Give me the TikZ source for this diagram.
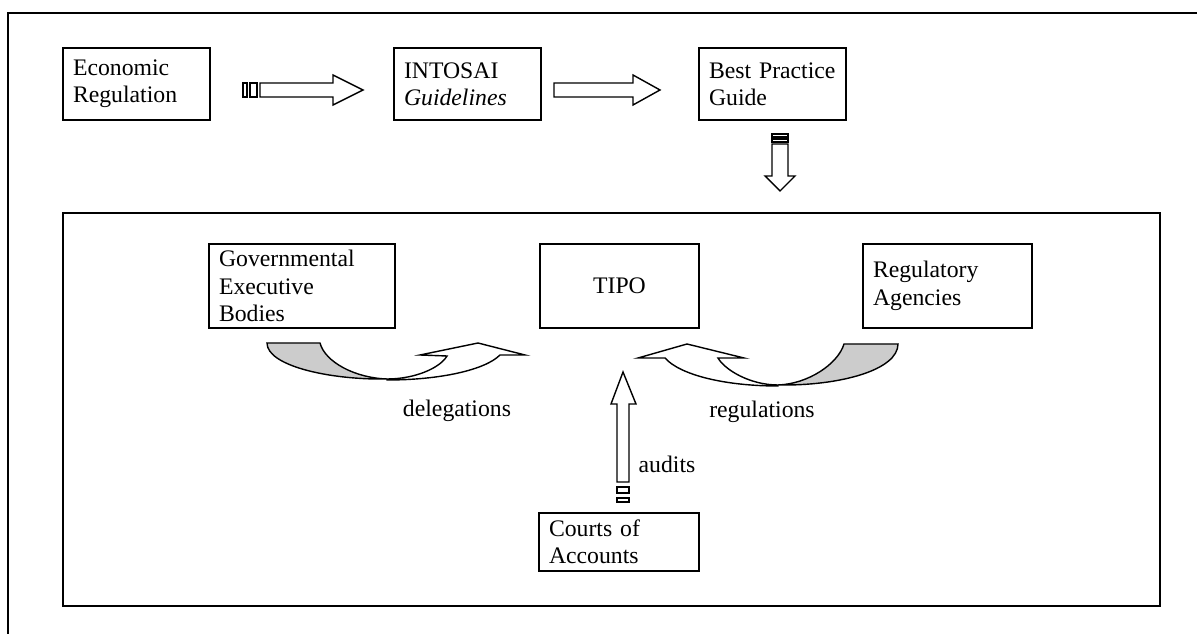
\documentclass[tikz,border=0pt]{standalone}
\usepackage{fontspec}
\setmainfont{Liberation Serif}
\usepackage{tikz}
\usetikzlibrary{positioning}
\definecolor{bandgray}{RGB}{204,204,204}

\begin{document}
\begin{tikzpicture}[
    x=0.02cm, y=-0.02cm,
    box/.style={draw, line width=1pt, inner xsep=0.2cm, inner ysep=0pt, align=left,
        minimum height=1.44cm, font=\fontsize{13.5}{15.6}\selectfont},
    frame/.style={line width=1.1pt},
    blockarrow/.style={draw, line width=0.8pt, fill=white, line join=miter},
    band/.style={draw, line width=0.8pt, fill=bandgray},
    lbl/.style={anchor=base, inner sep=0pt, font=\fontsize{13.5}{15.6}\selectfont},
]
    \useasboundingbox (0,0) rectangle (1197,634);

    % Frames
    \draw[frame] (8,634) -- (8,13) -- (1197,13);
    \draw[frame] (63,213) rectangle (1160,606);

    % Top row
    \node[box, text width=2.54cm] (econ) at (136.5,84) {Economic\\Regulation};
    \node[box, text width=2.54cm] (intosai) at (467.5,84) {INTOSAI\\\textit{Guidelines}};
    \node[box, text width=2.54cm] (guide) at (772.5,84) {Best Practice\\Guide};

    % Striped arrow econ -> intosai
    \draw[blockarrow] (243,83) rectangle (247,97);
    \draw[blockarrow] (250,83) rectangle (257,97);
    \draw[blockarrow] (260,83) -- (333,83) -- (333,75) -- (363,90) -- (333,105) -- (333,97) -- (260,97) -- cycle;

    % Arrow intosai -> guide
    \draw[blockarrow] (554,83) -- (633,83) -- (633,75) -- (660,90) -- (633,105) -- (633,97) -- (554,97) -- cycle;

    % Striped arrow down into the lower frame
    \draw[blockarrow] (772,134) rectangle (788,137);
    \draw[blockarrow] (772,139) rectangle (788,142);
    \draw[blockarrow] (772,144) -- (772,176) -- (765,176) -- (780,191) -- (795,176) -- (788,176) -- (788,144) -- cycle;

    % Actors
    \node[box, text width=3.32cm, minimum height=1.68cm] (gov) at (302,286) {Governmental\\Executive\\Bodies};
    \node[box, text width=2.78cm, minimum height=1.68cm, align=center] (tipo) at (619.5,286) {TIPO};
    \node[box, text width=2.98cm, minimum height=1.68cm] (reg) at (947.5,286) {Regulatory\\Agencies};
    \node[box, text width=2.8cm, minimum height=1.16cm] (courts) at (619,542) {Courts of\\Accounts};

    % Curved arrow: delegations
    \draw[band] (267,343) -- (320,343) .. controls (325,362) and (355,378) .. (387,379)
        .. controls (330,380) and (267,366) .. (267,343) -- cycle;
    \draw[blockarrow] (387,380) .. controls (440,380) and (485,370) .. (500,355)
        -- (525,355) -- (478,343) -- (420,355) -- (447,356)
        .. controls (440,368) and (415,379) .. (387,379) -- cycle;
    \node[lbl] (lbldeleg) at (457,417) {delegations};

    % Curved arrow: regulations
    \draw[band] (898,344) -- (844,344) .. controls (838,364) and (808,384) .. (778,385)
        .. controls (840,386) and (898,370) .. (898,344) -- cycle;
    \draw[blockarrow] (778,386) .. controls (725,386) and (680,375) .. (665,358)
        -- (638,358) -- (687,344) -- (744,358) -- (718,358)
        .. controls (725,370) and (750,385) .. (778,385) -- cycle;
    \node[lbl] (lblreg) at (762,418) {regulations};

    % Striped arrow up: audits
    \draw[blockarrow] (617,498) rectangle (629,502);
    \draw[blockarrow] (617,487) rectangle (629,493);
    \draw[blockarrow] (617,482) -- (617,404) -- (611,404) -- (623,372) -- (636,404) -- (629,404) -- (629,482) -- cycle;
    \node[lbl] (lblaudit) at (667,473) {audits};
\end{tikzpicture}
\end{document}
